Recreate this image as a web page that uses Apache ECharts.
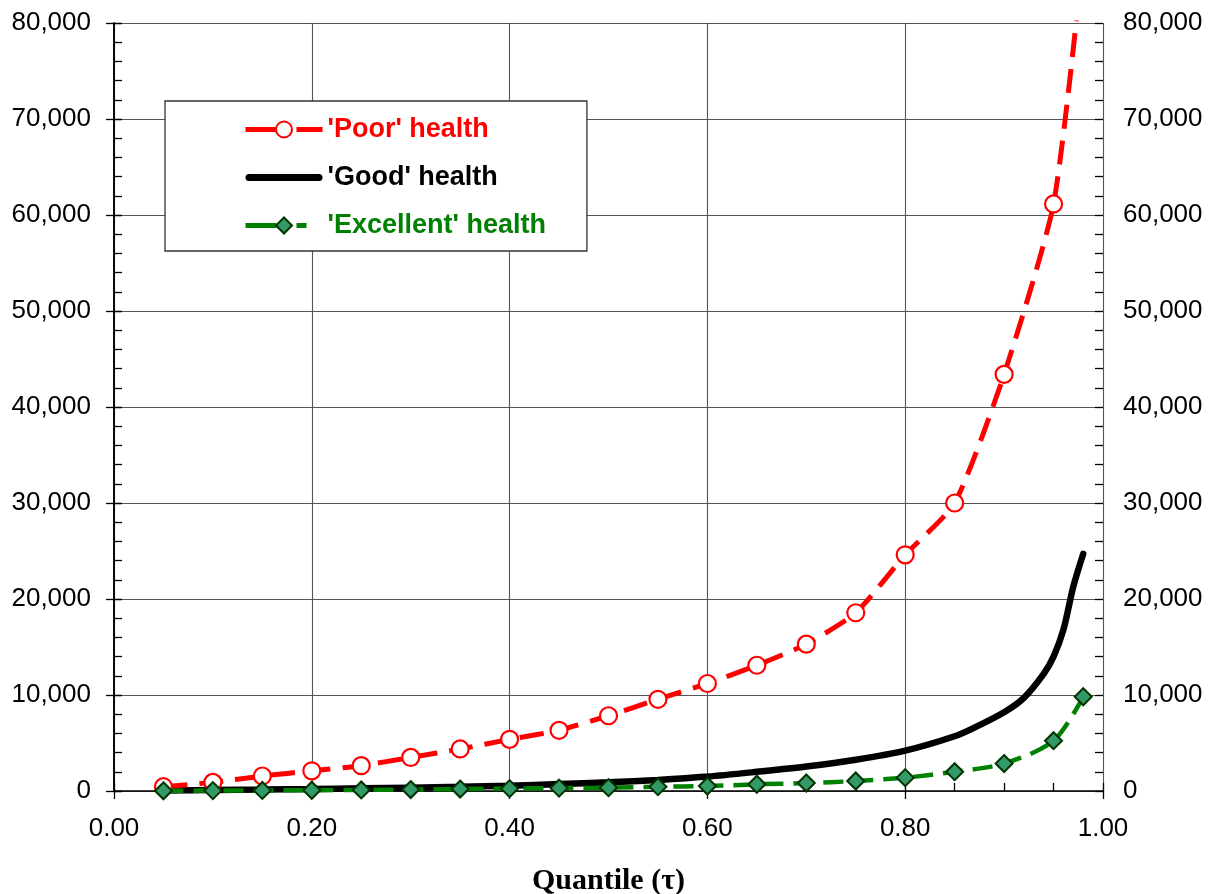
<!DOCTYPE html>
<html>
<head>
<meta charset="utf-8">
<script src="https://cdn.jsdelivr.net/npm/echarts@6/dist/echarts.min.js"></script>
<style>html,body{margin:0;padding:0;background:#fff;}#c{width:1210px;height:894px;}</style>
</head>
<body>
<div id="c"></div>
<script>
var tau = [0.05,0.10,0.15,0.20,0.25,0.30,0.35,0.40,0.45,0.50,0.55,0.60,0.65,0.70,0.75,0.80,0.85,0.90,0.95,0.98];
var poor = [450,900,1560,2100,2640,3500,4380,5380,6320,7840,9550,11200,13100,15300,18570,24600,30000,43400,61150,87000];
var goodTau = [0.05,0.10,0.15,0.20,0.25,0.30,0.35,0.40,0.45,0.50,0.55,0.60,0.65,0.70,0.75,0.80,0.85,0.87,0.90,0.92,0.94,0.95,0.96,0.97,0.98];
var good = [50,100,150,210,280,350,430,550,720,900,1150,1500,2000,2550,3250,4200,5700,6600,8200,9700,12200,14000,16800,21300,24700];
var excellent = [20,40,60,80,110,150,200,250,300,350,450,520,700,830,1040,1390,2010,2860,5240,9820];
var xTicks = ['0.00','0.20','0.40','0.60','0.80','1.00'];
var seriesNames = ["'Poor' health","'Good' health","'Excellent' health"];

function pairs(xs, ys){ return xs.map(function(x,i){ return [x, ys[i]]; }); }
function fmtY(v){ return String(v).replace(/\B(?=(\d{3})+(?!\d))/g, ','); }

var labelFont = {fontFamily:'Liberation Sans, Arial, sans-serif', fontSize:26, color:'#000'};
var tickStyle = {color:'#000', width:1.3};
var chart = echarts.init(document.getElementById('c'));

function yAx(pos, extra){ return Object.assign({type:'value', min:0, max:80000, interval:10000, position:pos,
  axisLine:{show:false}, axisTick:{show:false}, axisLabel:{show:false}, splitLine:{show:false}}, extra); }
function xAx(extra){ return Object.assign({type:'value', min:0, max:1, interval:0.2, position:'bottom',
  axisLine:{show:false, onZero:false}, axisTick:{show:false}, axisLabel:{show:false}, splitLine:{show:false}}, extra); }

chart.setOption({
  animation:false,
  grid:{left:114, right:107, top:23, bottom:103, containLabel:false, outerBoundsMode:'none'},
  legend:{
    orient:'vertical', left:165, top:101,
    backgroundColor:'#fff', borderColor:'#333', borderWidth:1.3,
    padding:[15,41,12,78], itemWidth:77, itemHeight:20, itemGap:21,
    textStyle:{fontFamily:'Liberation Sans, Arial, sans-serif', fontSize:27, fontWeight:'bold'},
    data:[
      {name:seriesNames[0], textStyle:{color:'#ff0000'}, lineStyle:{width:5, type:[31,20,30]}},
      {name:seriesNames[1], textStyle:{color:'#000000'}, icon:'path://M3.5,0 L73.5,0 A3.5,3.5 0 0 1 73.5,7 L3.5,7 A3.5,3.5 0 0 1 3.5,0 Z', itemStyle:{color:'#000'}},
      {name:seriesNames[2], textStyle:{color:'#008000'}, lineStyle:{width:5, type:[31,20,10,100]}}
    ]
  },
  xAxis:[
    xAx({
      name:'Quantile (τ)', nameLocation:'middle', nameGap:75,
      nameTextStyle:{fontFamily:'Liberation Serif, Times New Roman, serif', fontSize:30, fontWeight:'bold', color:'#000'},
      axisLine:{show:true, onZero:false, lineStyle:{color:'#000', width:1.5}},
      axisTick:{show:true, inside:false, length:8, lineStyle:tickStyle},
      axisLabel:Object.assign({show:true, margin:25, formatter:function(v){ return xTicks[Math.round(v/0.2)]; }}, labelFont),
      splitLine:{show:true, lineStyle:{color:'#555', width:1.1}}
    }),
    xAx({ interval:0.05, axisTick:{show:true, inside:true, length:8, lineStyle:tickStyle} })
  ],
  yAxis:[
    yAx('left', {
      axisLine:{show:true, lineStyle:{color:'#000', width:1.5}},
      axisTick:{show:true, inside:false, length:8, lineStyle:tickStyle},
      axisLabel:Object.assign({show:true, margin:23, formatter:fmtY}, labelFont),
      splitLine:{show:true, lineStyle:{color:'#555', width:1.1}}
    }),
    yAx('right', {
      axisLine:{show:true, lineStyle:{color:'#000', width:1.5}},
      axisTick:{show:true, inside:false, length:8, lineStyle:tickStyle},
      axisLabel:Object.assign({show:true, margin:20, formatter:fmtY}, labelFont)
    }),
    yAx('left', { interval:2000, axisTick:{show:true, inside:true, length:8, lineStyle:tickStyle} }),
    yAx('right', { interval:2000, axisTick:{show:true, inside:true, length:8, lineStyle:tickStyle} })
  ],
  series:[
    {
      name:seriesNames[0], type:'line', xAxisIndex:0, yAxisIndex:0,
      data:pairs(tau, poor), smooth:0.2, clip:true, z:3,
      symbol:'circle', symbolSize:17, showAllSymbol:true,
      lineStyle:{color:'#ff0000', width:5, type:[24,12]},
      itemStyle:{color:'#ffffff', borderColor:'#ff0000', borderWidth:2.2}
    },
    {
      name:seriesNames[1], type:'line', xAxisIndex:0, yAxisIndex:0,
      data:pairs(goodTau, good), smooth:0.3, clip:true, z:2,
      symbol:'none', showSymbol:false,
      lineStyle:{color:'#000000', width:6.5, cap:'round'},
      itemStyle:{color:'#000000'}
    },
    {
      name:seriesNames[2], type:'line', xAxisIndex:0, yAxisIndex:0,
      data:pairs(tau, excellent), smooth:0.3, clip:true, z:4,
      symbol:'diamond', symbolSize:17, showAllSymbol:true,
      lineStyle:{color:'#008000', width:4.5, type:[20,10]},
      itemStyle:{color:'#339966', borderColor:'#003300', borderWidth:2}
    }
  ]
});
</script>
</body>
</html>
